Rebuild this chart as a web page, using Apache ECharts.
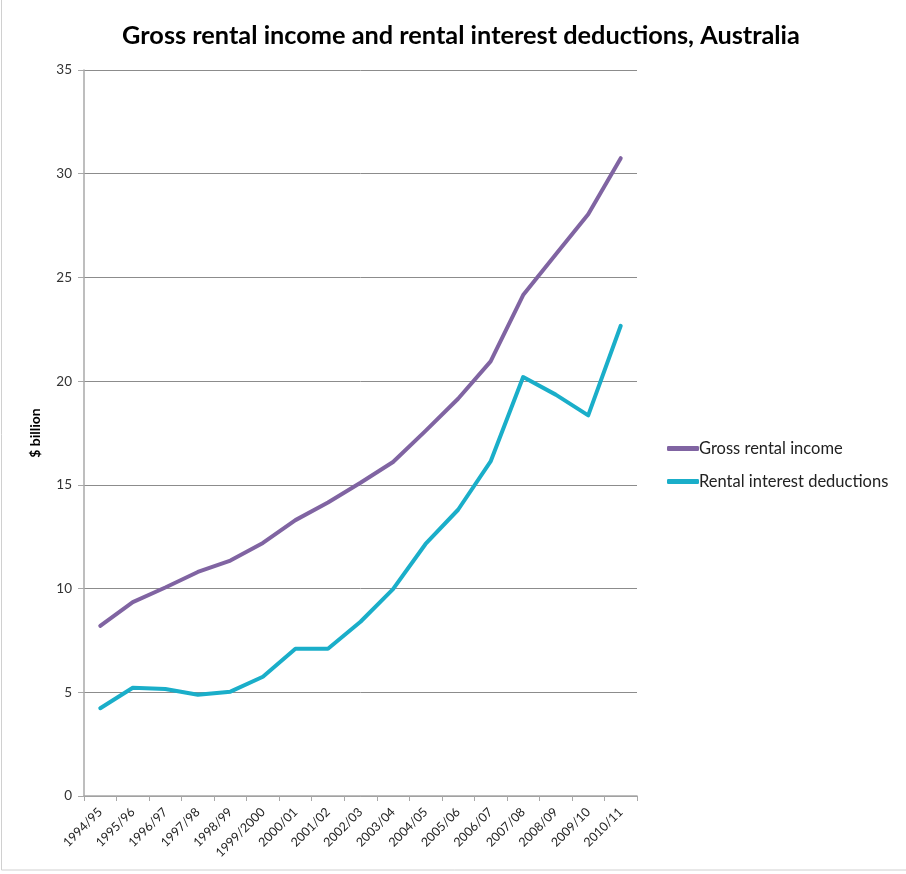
<!DOCTYPE html>
<html>
<head>
<meta charset="utf-8">
<script src="https://cdn.jsdelivr.net/npm/echarts@6/dist/echarts.min.js"></script>
<style>
  html, body { margin: 0; padding: 0; background: #fff; }
  #chart { width: 906px; height: 874px; }
</style>
</head>
<body>
<div id="chart"></div>
<script>
// Financial years shown on the category axis
const years = ['1994/95', '1995/96', '1996/97', '1997/98', '1998/99', '1999/2000',
  '2000/01', '2001/02', '2002/03', '2003/04', '2004/05', '2005/06', '2006/07',
  '2007/08', '2008/09', '2009/10', '2010/11'];

// $ billion
const grossRentalIncome = [8.2, 9.35, 10.05, 10.8, 11.35, 12.2, 13.3, 14.15, 15.1,
  16.1, 17.6, 19.15, 20.95, 24.15, 26.1, 28.05, 30.75];
const rentalInterestDeductions = [4.23, 5.22, 5.16, 4.88, 5.03, 5.75, 7.1, 7.1, 8.4,
  9.97, 12.15, 13.8, 16.13, 20.2, 19.35, 18.35, 22.67];

const yTicks = { min: 0, max: 35, interval: 5 };

const seriesNames = ['Gross rental income', 'Rental interest deductions'];
const seriesColors = ['#8064a2', '#1aaec9'];

const FONT = 'Lato, "Open Sans", sans-serif';
const chart = echarts.init(document.getElementById('chart'), null, { renderer: 'canvas' });

chart.setOption({
  backgroundColor: '#ffffff',
  animation: false,
  title: {
    text: 'Gross rental income and rental interest deductions, Australia',
    left: 456,
    top: 18,
    textAlign: 'center',
    textStyle: { fontFamily: FONT, fontSize: 25.3, fontWeight: 'bold', color: '#000' }
  },
  grid: { left: 84, right: 269, top: 70, bottom: 78 },
  legend: {
    orient: 'vertical',
    left: 662,
    top: 435,
    itemWidth: 32,
    itemHeight: 5,
    itemGap: 16,
    icon: 'roundRect',
    data: seriesNames,
    textStyle: { fontFamily: FONT, fontSize: 16.5, color: '#222', padding: [0, 0, 0, -5] }
  },
  xAxis: {
    type: 'category',
    data: years,
    boundaryGap: true,
    axisLine: { lineStyle: { color: '#a8a8a8', width: 1.5 } },
    axisTick: { show: true, length: 5, alignWithLabel: false, lineStyle: { color: '#a8a8a8' } },
    axisLabel: {
      interval: 0,
      rotate: 45,
      margin: 14,
      fontFamily: FONT,
      fontSize: 12.5,
      color: '#222'
    }
  },
  yAxis: {
    type: 'value',
    min: yTicks.min,
    max: yTicks.max,
    interval: yTicks.interval,
    name: '$ billion',
    nameLocation: 'middle',
    nameGap: 42,
    nameRotate: 90,
    nameTextStyle: { fontFamily: FONT, fontSize: 14, fontWeight: 'bold', color: '#000' },
    axisLine: { show: true, lineStyle: { color: '#a8a8a8', width: 1.5 } },
    axisTick: { show: true, length: 6, lineStyle: { color: '#a8a8a8' } },
    axisLabel: { fontFamily: FONT, fontSize: 13.5, color: '#333', margin: 12 },
    splitLine: { show: true, lineStyle: { color: '#8c8c8c', width: 1 } }
  },
  series: [
    {
      name: seriesNames[0],
      type: 'line',
      data: grossRentalIncome,
      symbol: 'none',
      color: seriesColors[0],
      lineStyle: { width: 4, color: seriesColors[0], cap: 'round', join: 'round' }
    },
    {
      name: seriesNames[1],
      type: 'line',
      data: rentalInterestDeductions,
      symbol: 'none',
      color: seriesColors[1],
      lineStyle: { width: 4, color: seriesColors[1], cap: 'round', join: 'round' }
    }
  ],
  graphic: [
    {
      type: 'rect',
      shape: { x: 1.5, y: -2, width: 950, height: 872 },
      style: { fill: 'none', stroke: '#d0d0d0', lineWidth: 1 },
      silent: true
    }
  ]
});
</script>
</body>
</html>
